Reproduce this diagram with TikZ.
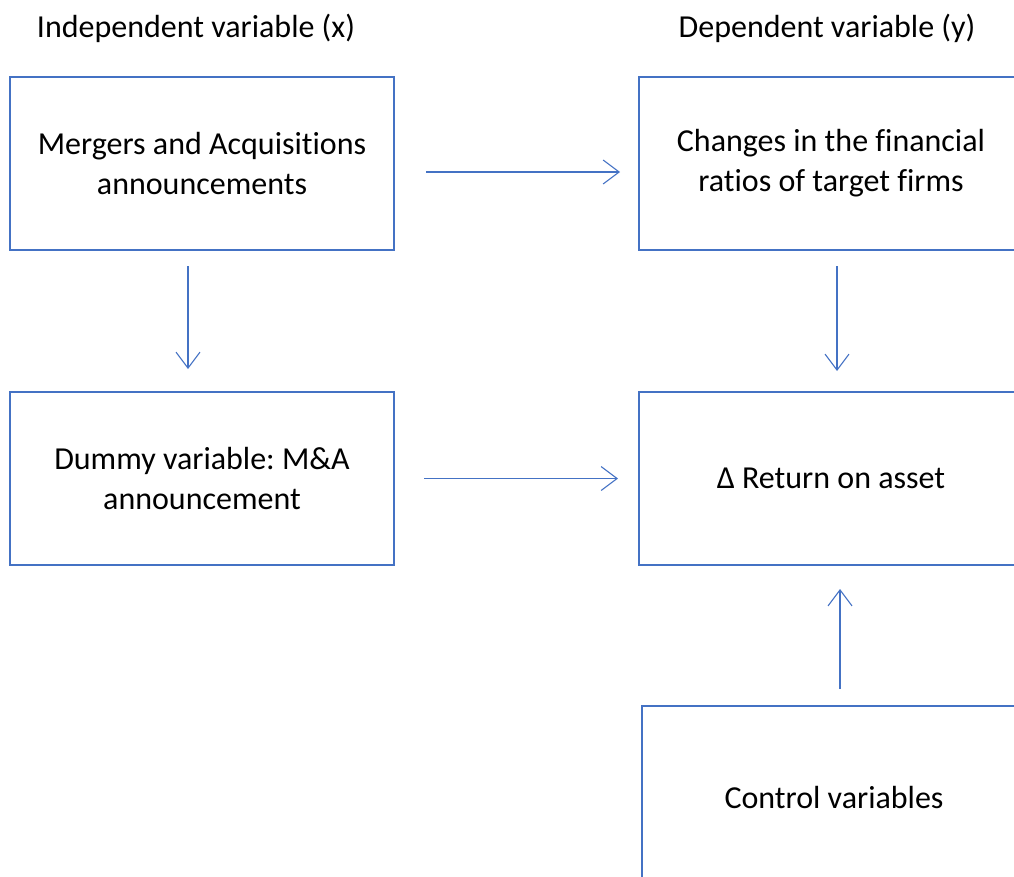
\documentclass[tikz,border=0pt]{standalone}
\usepackage{fontspec}
\setmainfont[Ligatures=NoCommon]{Carlito}
\usetikzlibrary{arrows.meta}
\definecolor{boxblue}{HTML}{4472C4}
\frenchspacing
\begin{document}
\begin{tikzpicture}[x=1pt,y=-1pt,
  box/.style={draw=boxblue,line width=2pt,minimum width=384pt,minimum height=173pt,align=center,font=\fontsize{32}{40}\selectfont,inner sep=0pt},
  lbl/.style={font=\fontsize{32}{38}\selectfont,inner sep=0pt},
  conn/.style={draw=boxblue,line width=1.1pt,-{Straight Barb[length=16pt,width=24pt,line width=1.1pt]}}]
\useasboundingbox (0,0) rectangle (1014,876);
\clip (0,0) rectangle (1014,876);
\node[lbl] (hx) at (196,28) {Independent variable (x)};
\node[lbl] (hy) at (827,28) {Dependent variable (y)};
\node[box] (ma) at (202,163.5) {Mergers and Acquisitions\\announcements};
\node[box] (ch) at (831,163.5) {Changes in the financial\\ratios of target firms};
\node[box] (dv) at (202,478.5) {Dummy variable: M\&A\\announcement};
\node[box] (roa) at (831,478.5) {Δ Return on asset};
\node[box,minimum height=182pt] (ctrl) at (834,797) {Control variables};
\draw[conn,shorten <=31pt,shorten >=18pt] ([yshift=-8.5pt]ma.east) -- ([yshift=-8.5pt]ch.west);
\draw[conn,shorten <=29pt,shorten >=20pt] (dv.east) -- (roa.west);
\draw[conn,shorten <=15pt,shorten >=22pt] ([xshift=-14pt]ma.south) -- ([xshift=-14pt]dv.north);
\draw[conn,shorten <=15pt,shorten >=20pt] ([xshift=6pt]ch.south) -- ([xshift=6pt]roa.north);
\draw[conn,shorten <=16pt,shorten >=23pt] ([xshift=6pt]ctrl.north) -- ([xshift=9pt]roa.south);
\end{tikzpicture}
\end{document}
